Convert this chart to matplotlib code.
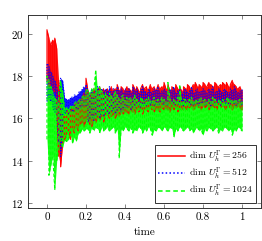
import matplotlib
matplotlib.use('Agg')
import matplotlib.pyplot as plt
import numpy as np

plt.rcParams['font.family'] = 'serif'
plt.rcParams['font.serif'] = ['cmr10', 'DejaVu Serif']
plt.rcParams['mathtext.fontset'] = 'cm'
plt.rcParams['axes.formatter.use_mathtext'] = True

# time grid (step 0.01), band of each run: low / high per step
time = np.linspace(0, 1, 101)

red_lo = [17.8, 17.5, 17.6, 17.4, 17.2, 16.5,
          14.2, 13.7, 14.8, 15.0, 15.2,
          15.4, 15.0, 15.5, 15.3, 15.6, 15.4, 15.7, 15.8, 15.6, 15.9,
          16.0, 15.7, 15.6, 15.9, 15.8, 16.0, 15.9, 16.1, 15.8, 16.1,
          16.2, 16.0, 16.1, 16.2, 16.0, 16.2, 16.1, 16.3, 16.2, 16.3,
          16.3, 16.2, 16.4, 16.3, 16.2, 16.4, 16.3, 16.4, 16.2, 16.4,
          16.4, 16.3, 16.5, 16.4, 16.3, 16.5, 16.4, 16.3, 16.5, 16.4,
          16.5, 16.4, 16.3, 16.5, 16.4, 16.5, 16.3, 16.4, 16.5, 16.4,
          16.5, 16.4, 16.5, 16.6, 16.4, 16.5, 16.6, 16.5, 16.4, 16.6,
          16.5, 16.6, 16.4, 16.5, 16.6, 16.5, 16.4, 16.6, 16.5, 16.6,
          16.5, 16.4, 16.6, 16.5, 16.4, 16.6, 16.5, 16.6, 16.5, 16.4]
red_hi = [20.2, 19.8, 19.5, 19.7, 19.8, 19.3,
          17.8, 16.5, 16.0, 16.1, 16.3,
          16.4, 16.3, 16.5, 16.6, 16.7, 16.8, 16.9, 17.0, 17.2, 17.9,
          17.3, 17.0, 17.2, 17.4, 17.1, 17.3, 17.5, 17.2, 17.4, 17.3,
          17.4, 17.2, 17.5, 17.3, 17.4, 17.6, 17.3, 17.5, 17.4, 17.3,
          17.5, 17.4, 17.3, 17.6, 17.4, 17.5, 17.3, 17.4, 17.6, 17.4,
          17.5, 17.3, 17.6, 17.4, 17.5, 17.3, 17.6, 17.4, 17.5, 17.7,
          17.4, 17.6, 17.3, 17.5, 17.4, 17.6, 17.4, 17.5, 17.3, 17.5,
          17.4, 17.6, 17.5, 17.4, 17.6, 17.7, 17.5, 17.6, 17.5, 17.7,
          17.6, 17.5, 17.7, 17.6, 17.5, 17.7, 17.6, 17.5, 17.6, 17.7,
          17.6, 17.7, 17.5, 17.6, 17.8, 17.6, 17.5, 17.4, 17.5, 17.3]

blue_lo = [16.8, 17.0, 16.8, 16.5, 16.3, 16.0,
           14.8, 14.2, 15.5, 16.2, 16.3,
           16.2, 16.3, 16.3, 16.4, 16.4, 16.4, 16.5, 16.5, 16.6, 16.6,
           15.8, 16.0, 16.2, 15.9, 16.1, 16.2, 16.0, 16.3, 16.1, 16.2,
           16.3, 16.2, 16.4, 16.3, 16.2, 16.4, 16.5, 16.3, 16.4, 16.5,
           16.5, 16.6, 16.4, 16.6, 16.5, 16.6, 16.7, 16.5, 16.6, 16.7,
           16.6, 16.7, 16.6, 16.8, 16.6, 16.7, 16.6, 16.7, 16.8, 16.6,
           16.7, 16.6, 16.8, 16.7, 16.6, 16.7, 16.8, 16.6, 16.7, 16.6,
           16.7, 16.8, 16.6, 16.7, 16.6, 16.8, 16.7, 16.6, 16.7, 16.8,
           16.6, 16.7, 16.8, 16.6, 16.7, 16.6, 16.8, 16.7, 16.6, 16.7,
           16.8, 16.6, 16.7, 16.6, 16.8, 16.7, 16.6, 16.7, 16.8, 16.6]
blue_hi = [18.6, 18.5, 18.2, 18.0, 17.8, 17.5,
           17.0, 17.9, 17.8, 17.0, 16.9,
           16.9, 17.0, 17.0, 17.1, 17.1, 17.2, 17.3, 17.4, 17.5, 17.6,
           17.3, 17.1, 17.4, 17.2, 17.3, 17.5, 17.2, 17.4, 17.3, 17.4,
           17.3, 17.5, 17.2, 17.4, 17.3, 17.5, 17.3, 17.4, 17.2, 17.4,
           17.3, 17.4, 17.2, 17.5, 17.3, 17.4, 17.2, 17.3, 17.5, 17.3,
           17.2, 17.4, 17.3, 17.2, 17.4, 17.3, 17.5, 17.2, 17.3, 17.4,
           17.3, 17.2, 17.4, 17.3, 17.5, 17.2, 17.3, 17.4, 17.2, 17.3,
           17.4, 17.2, 17.3, 17.5, 17.2, 17.3, 17.4, 17.2, 17.3, 17.4,
           17.3, 17.2, 17.4, 17.3, 17.5, 17.2, 17.3, 17.4, 17.3, 17.2,
           17.4, 17.3, 17.2, 17.4, 17.3, 17.5, 17.3, 17.2, 17.3, 17.4]

green_lo = [15.0, 13.3, 13.8, 14.2, 12.6, 14.0,
            14.5, 15.0, 14.6, 15.0, 14.9,
            15.0, 15.2, 14.8, 15.1, 14.9, 15.3, 15.3, 15.5, 15.4, 15.5,
            15.5, 15.3, 15.6, 15.4, 15.6, 15.5, 15.3, 15.6, 15.4, 15.5,
            15.6, 15.4, 15.5, 15.6, 15.3, 15.5, 14.1, 15.5, 15.4, 15.6,
            15.5, 15.4, 15.6, 15.3, 15.5, 15.4, 15.6, 15.5, 15.3, 15.5,
            15.4, 15.6, 15.5, 15.2, 15.5, 15.4, 15.6, 15.5, 15.4, 15.6,
            15.5, 15.4, 15.6, 15.5, 15.1, 15.5, 15.4, 15.6, 15.5, 15.4,
            15.5, 15.6, 15.4, 15.5, 15.3, 15.5, 15.6, 15.4, 15.5, 15.2,
            15.5, 15.4, 15.6, 15.5, 15.4, 15.5, 15.6, 15.3, 15.5, 15.4,
            15.6, 15.5, 15.4, 15.5, 15.2, 15.5, 15.4, 15.6, 15.5, 15.4]
green_hi = [18.0, 17.8, 17.5, 17.2, 17.0, 16.8,
            17.2, 17.8, 17.3, 16.5, 16.5,
            16.5, 16.6, 16.6, 16.7, 16.8, 16.8, 16.9, 17.0, 17.1, 17.4,
            17.3, 17.2, 17.4, 17.3, 18.3, 17.2, 17.5, 17.3, 17.1, 17.2,
            17.0, 17.2, 17.1, 17.0, 17.3, 17.1, 16.9, 17.0, 17.1, 16.9,
            17.0, 16.9, 17.0, 16.8, 17.1, 16.9, 16.8, 17.0, 16.9, 16.8,
            16.9, 17.0, 16.8, 16.9, 17.0, 16.8, 16.9, 16.8, 17.0, 16.9,
            16.8, 17.7, 17.0, 16.8, 16.9, 16.8, 17.0, 17.6, 16.8, 16.9,
            16.9, 16.8, 16.9, 17.0, 16.8, 16.9, 16.8, 16.9, 17.0, 16.8,
            16.9, 16.8, 16.9, 16.8, 17.0, 16.9, 16.8, 16.9, 16.8, 16.9,
            16.8, 16.9, 17.0, 16.8, 16.9, 16.8, 16.9, 16.8, 16.9, 16.8]

labels = [r'$\dim\, U_h^\Gamma = 256$', r'$\dim\, U_h^\Gamma = 512$',
          r'$\dim\, U_h^\Gamma = 1024$']


def zigzag(lo, hi):
    # go lo->hi, hi->lo, ... so the line sweeps through the band like the raw signal
    ys = []
    for i in range(len(lo)):
        if i % 2 == 0:
            ys += [lo[i], hi[i]]
        else:
            ys += [hi[i], lo[i]]
    return np.repeat(time, 2), np.array(ys)


fig = plt.figure(figsize=(2.62, 2.41), dpi=100)
ax = fig.add_axes([0.107, 0.137, 0.889, 0.801])

runs = [(red_lo, red_hi, 'red', '-'),
        (blue_lo, blue_hi, 'blue', (0, (1, 1.5))),
        (green_lo, green_hi, '#00ff00', (0, (3, 2)))]
for (lo, hi, c, ls), lab in zip(runs, labels):
    ax.fill_between(time, lo, hi, color=c, lw=0, alpha=0.9)
    x, y = zigzag(lo, hi)
    ax.plot(x, y, color=c, lw=0.8, ls=ls, label=lab)

ax.set_xlim(-0.097, 1.097)
ax.set_ylim(11.75, 20.9)
ax.set_xticks([0, 0.2, 0.4, 0.6, 0.8, 1])
ax.set_xticklabels(['0', '0.2', '0.4', '0.6', '0.8', '1'])
ax.set_yticks([12, 14, 16, 18, 20])
ax.tick_params(direction='in', top=True, right=True, length=3, width=0.5,
               labelsize=8, colors='#555555', labelcolor='black', pad=3)
for s in ax.spines.values():
    s.set_linewidth(0.7)
    s.set_color('#333333')
ax.set_xlabel('time', fontsize=8, labelpad=4)

leg = ax.legend(loc='lower right', fontsize=7, fancybox=False, framealpha=1,
                edgecolor='#333333', handlelength=2.8, borderpad=0.35,
                labelspacing=0.12, handletextpad=0.35, borderaxespad=0.55)
leg.get_frame().set_linewidth(0.7)
for line in leg.get_lines():
    line.set_linewidth(1.1)

plt.savefig('out.png', dpi=100)
